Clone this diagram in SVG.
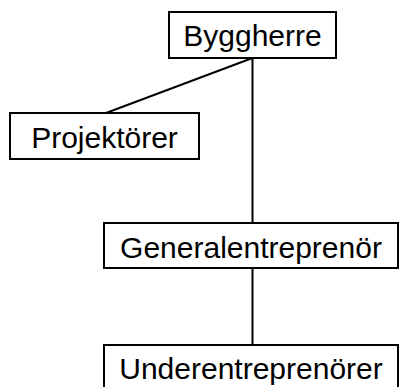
<svg xmlns="http://www.w3.org/2000/svg" width="400" height="387" viewBox="0 0 400 387">
<style>
.box{fill:#fff;stroke:#000;stroke-width:2}
.lbl{font-family:"Liberation Sans",Arial,sans-serif;font-size:30px;fill:#000;text-anchor:middle}
.conn{stroke:#000;stroke-width:2;fill:none}
</style>
<rect width="400" height="387" fill="#fff"/>
<g id="connectors">
<line class="conn" x1="252.5" y1="58" x2="252.5" y2="223"/>
<line class="conn" x1="252.5" y1="58" x2="106" y2="113"/>
<line class="conn" x1="252.5" y1="268" x2="252.5" y2="345"/>
</g>
<g id="byggherre">
<rect class="box" x="169" y="12" width="167" height="46"/>
<text class="lbl" x="252.5" y="45.5">Byggherre</text>
</g>
<g id="projektorer">
<rect class="box" x="10" y="113" width="189" height="46"/>
<text class="lbl" x="104.5" y="147.5">Projektörer</text>
</g>
<g id="generalentreprenor">
<rect class="box" x="104" y="223" width="294" height="45"/>
<text class="lbl" x="251" y="257.5">Generalentreprenör</text>
</g>
<g id="underentreprenorer">
<rect class="box" x="104" y="345" width="294" height="46"/>
<text class="lbl" x="251" y="379">Underentreprenörer</text>
</g>
</svg>
